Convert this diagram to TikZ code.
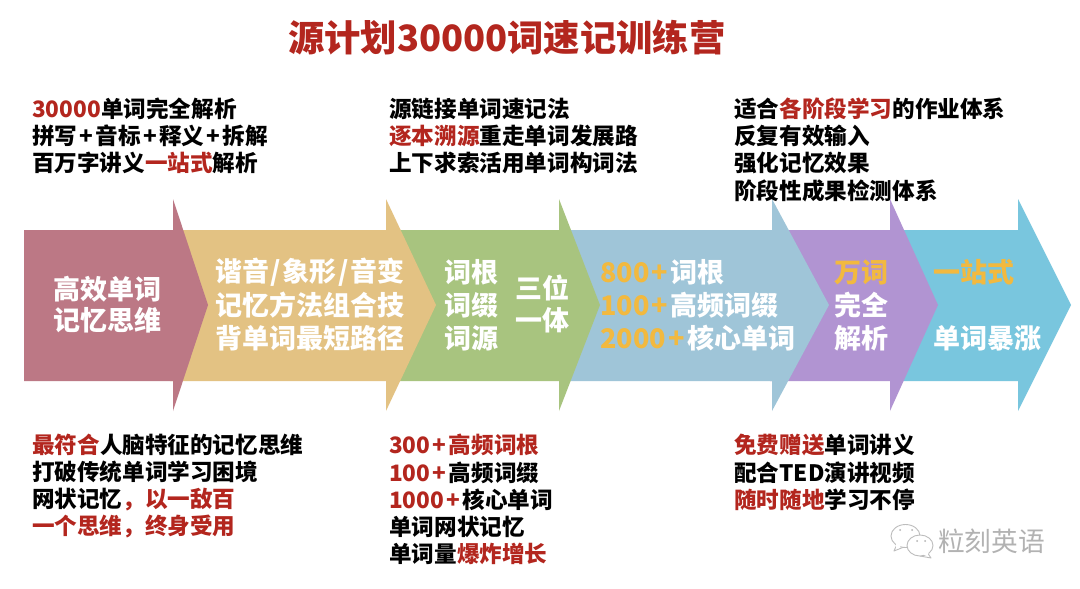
\documentclass[tikz,border=0pt]{standalone}
\usepackage{fontspec}
\setmainfont{Noto Sans CJK SC}
\definecolor{rd}{HTML}{B3261E}
\definecolor{og}{HTML}{F2B93F}
\definecolor{aA}{HTML}{BC7885}
\definecolor{aB}{HTML}{E3C283}
\definecolor{aC}{HTML}{A8C47F}
\definecolor{aD}{HTML}{9FC5D8}
\definecolor{aE}{HTML}{B194D2}
\definecolor{aF}{HTML}{79C6DE}
\newcommand{\R}[1]{\textcolor{rd}{#1}}
\newcommand{\Og}[1]{\textcolor{og}{#1}}
\newcommand{\Pl}{\kern2.3pt+\kern2.3pt}
\newcommand{\Sl}{\kern1.7pt/\kern1.7pt}
% \arrowshape{colour}{left}{head base}{tip}
\newcommand{\arrowshape}[4]{\fill[#1] (#2,230) -- (#3,230) -- (#3,199) -- (#4,305) -- (#3,411) -- (#3,381) -- (#2,381) -- cycle;}
\tikzset{
 x=1pt,y=-1pt,
 body/.style={anchor=west,inner sep=0pt,font=\fontsize{22.6}{24}\selectfont\bfseries,text=black},
 inarrow/.style={anchor=west,inner sep=0pt,font=\fontsize{27}{29}\selectfont\bfseries,text=white},
 titletext/.style={anchor=west,inner sep=0pt,font=\fontsize{36.3}{40}\selectfont\bfseries,text=rd},
 wmtext/.style={anchor=west,inner sep=0pt,font=\fontsize{26.7}{28}\selectfont,text=black!30},
 bubble/.style={draw=black!26,fill=white,line width=0.9pt,line join=round},
}
\begin{document}
\begin{tikzpicture}
\useasboundingbox (0,0) rectangle (1080,589);
\fill[white] (0,0) rectangle (1080,589);
\arrowshape{aF}{900}{1018}{1071}
\arrowshape{aE}{770}{890}{938}
\arrowshape{aD}{560}{772}{829}
\arrowshape{aC}{390}{559}{600}
\arrowshape{aB}{170}{386}{436}
\arrowshape{aA}{24}{173}{208}

\node[titletext] (title) at (288,38) {源计划30000词速记训练营};

\node[body] (t1a) at (32,109) {\R{30000}单词完全解析};
\node[body] (t1b) at (32,136) {拼写\Pl 音标\Pl 释义\Pl 拆解};
\node[body] (t1c) at (32,163) {百万字讲义\R{一站式}解析};

\node[body] (t2a) at (389,109) {源链接单词速记法};
\node[body] (t2b) at (389,136) {\R{逐本溯源}重走单词发展路};
\node[body] (t2c) at (389,163) {上下求索活用单词构词法};

\node[body] (t3a) at (734,109) {适合\R{各阶段学习}的作业体系};
\node[body] (t3b) at (734,136) {反复有效输入};
\node[body] (t3c) at (734,163) {强化记忆效果};
\node[body] (t3d) at (734,191) {阶段性成果检测体系};

\node[inarrow] (a1a) at (53,289) {高效单词};
\node[inarrow] (a1b) at (53,320) {记忆思维};
\node[inarrow] (a2a) at (215,272) {谐音\Sl 象形\Sl 音变};
\node[inarrow] (a2b) at (215,305) {记忆方法组合技};
\node[inarrow] (a2c) at (215,338) {背单词最短路径};
\node[inarrow] (a3a) at (444,272) {词根};
\node[inarrow] (a3b) at (444,305) {词缀};
\node[inarrow] (a3c) at (444,338) {词源};
\node[inarrow] (a3d) at (515,288) {三位};
\node[inarrow] (a3e) at (515,320) {一体};
\node[inarrow] (a4a) at (600,272) {\Og{800\Pl}词根};
\node[inarrow] (a4b) at (600,305) {\Og{100\Pl}高频词缀};
\node[inarrow] (a4c) at (600,338) {\Og{2000\Pl}核心单词};
\node[inarrow] (a5a) at (834,272) {\Og{万词}};
\node[inarrow] (a5b) at (834,305) {完全};
\node[inarrow] (a5c) at (834,338) {解析};
\node[inarrow] (a6a) at (933,272) {\Og{一站式}};
\node[inarrow] (a6b) at (933,338) {单词暴涨};

\node[body] (b1a) at (32,445) {\R{最符合}人脑特征的记忆思维};
\node[body] (b1b) at (32,472) {打破传统单词学习困境};
\node[body] (b1c) at (32,500) {网状记忆\R{，以一敌百}};
\node[body] (b1d) at (32,527) {\R{一个思维，终身受用}};

\node[body] (b2a) at (389,445) {\R{300\Pl 高频词根}};
\node[body] (b2b) at (389,473) {\R{100\Pl}高频词缀};
\node[body] (b2c) at (389,500) {\R{1000\Pl}核心单词};
\node[body] (b2d) at (389,527) {单词网状记忆};
\node[body] (b2e) at (389,554) {单词量\R{爆炸增长}};

\node[body] (b3a) at (734,445) {\R{免费赠送}单词讲义};
\node[body] (b3b) at (734,473) {配合TED演讲视频};
\node[body] (b3c) at (734,500) {\R{随时随地}学习不停};

% watermark
\draw[bubble] (897,544) -- (894,551) -- (904,547) -- cycle;
\draw[bubble] (905.5,536) ellipse (14.5 and 11.5);
\fill[white] (898,546) circle (2.5);
\draw[bubble] (927,552) -- (931,558) -- (920,556) -- cycle;
\draw[bubble] (920,545.5) ellipse (13 and 10.5);
\fill[white] (926,553) circle (2.5);
\fill[black!30] (900,530) circle (1) (912,530) circle (1) (917,541) circle (1) (925,541) circle (1);
\node[wmtext] (wm) at (938,541) {粒刻英语};
\end{tikzpicture}
\end{document}
